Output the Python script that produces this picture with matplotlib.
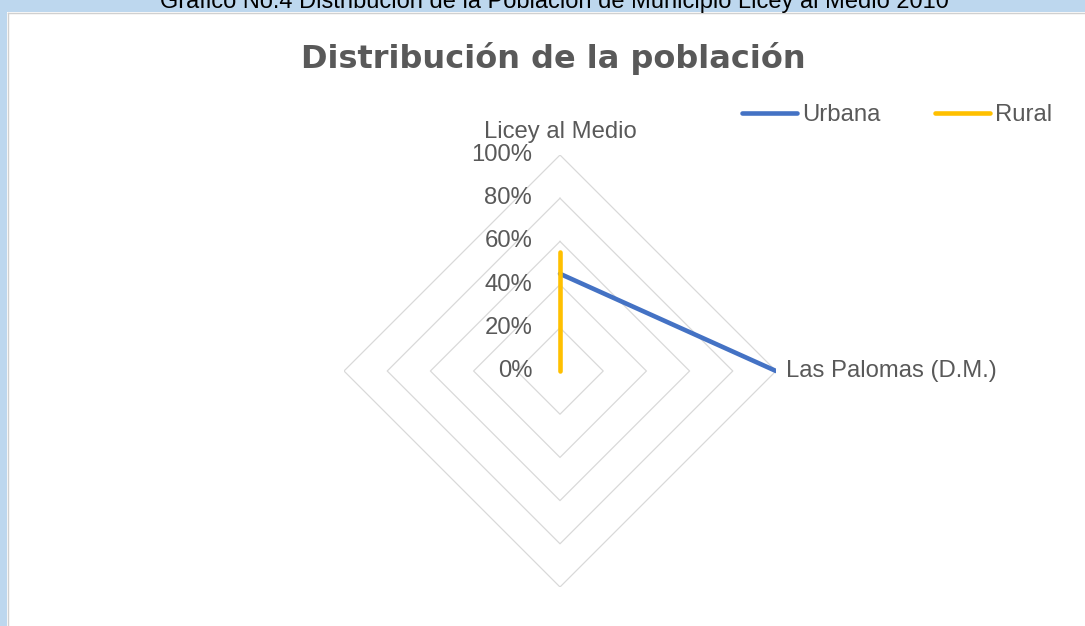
import numpy as np
import matplotlib
matplotlib.use("Agg")
import matplotlib.pyplot as plt
from matplotlib.patches import Rectangle
from matplotlib.lines import Line2D

# data
categories = ["Licey al Medio", "Las Palomas (D.M.)", "", ""]
urbana = [0.45, 1.00, np.nan, np.nan]
rural = [0.55, 0.00, np.nan, np.nan]
ring_values = [0.2, 0.4, 0.6, 0.8, 1.0]
tick_values = [0.0, 0.2, 0.4, 0.6, 0.8, 1.0]
tick_labels = ["0%", "20%", "40%", "60%", "80%", "100%"]

caption = "Gráfico No.4 Distribución de la Población de Municipio Licey al Medio 2010"
title = "Distribución de la población"

W, H = 1085, 626
TXT = "#595959"
BLUE = "#4472C4"
GOLD = "#FFC000"
FS = 17.2

plt.rcParams['font.family'] = ['Liberation Sans', 'DejaVu Sans']

fig = plt.figure(figsize=(W / 100, H / 100), dpi=100)
fig.patch.set_facecolor("white")

# light blue frame (top band and left strip)
fig.add_artist(Rectangle((0, 1 - 12 / H), 1, 12 / H, transform=fig.transFigure,
                         facecolor="#BDD7EE", edgecolor="none", zorder=0))
fig.add_artist(Rectangle((0, 0), 7 / W, 1, transform=fig.transFigure,
                         facecolor="#BDD7EE", edgecolor="none", zorder=0))
fig.add_artist(Line2D([7.5 / W, 1], [1 - 12.5 / H, 1 - 12.5 / H], transform=fig.transFigure,
                      color="#D0D0D0", lw=1))
fig.add_artist(Line2D([7.5 / W, 7.5 / W], [0, 1 - 12.5 / H], transform=fig.transFigure,
                      color="#D0D0D0", lw=1))

# caption is cut by the top edge, as in the source
fig.text(554 / W, 1 - 8 / H, caption, ha="center", va="baseline", fontsize=17, color="black")
fig.text(553 / W, 1 - 68 / H, title, ha="center", va="baseline", fontsize=23,
         fontweight="bold", color=TXT, family="DejaVu Sans")

# radar axes: centre (560, 371), radius 216 px
cx, cy, R = 560, 371, 216
ax = fig.add_axes([(cx - R) / W, (H - cy - R) / H, 2 * R / W, 2 * R / H], projection="polar")
ax.set_theta_zero_location("N")
ax.set_theta_direction(-1)
ax.set_ylim(0, 1)
ax.grid(False)
ax.set_xticks([])
ax.set_yticks([])
ax.spines["polar"].set_visible(False)
ax.patch.set_alpha(0)

theta = np.linspace(0, 2 * np.pi, len(categories), endpoint=False)
ring_theta = np.append(theta, theta[0])
for r in ring_values:
    ax.plot(ring_theta, [r] * len(ring_theta), color="#D9D9D9", lw=0.9, zorder=1)

ax.plot(theta, urbana, color=BLUE, lw=3.3, solid_capstyle="round", zorder=3, label="Urbana")
ax.plot(theta, rural, color=GOLD, lw=3.3, solid_capstyle="round", zorder=3, label="Rural")

for v, lab in zip(tick_values, tick_labels):
    ax.annotate(lab, (0, v), xytext=(-20, 0), textcoords="offset points",
                ha="right", va="center", fontsize=FS, color=TXT, annotation_clip=False)

ax.annotate(categories[0], (theta[0], 1), xytext=(0, 16.5), textcoords="offset points",
            ha="center", va="center", fontsize=FS, color=TXT, annotation_clip=False)
ax.annotate(categories[1], (theta[1], 1), xytext=(7, 0), textcoords="offset points",
            ha="left", va="center", fontsize=FS, color=TXT, annotation_clip=False)

fig.legend(loc="center left", bbox_to_anchor=(742 / W, 1 - 115 / H), ncol=2, frameon=False,
           fontsize=FS, labelcolor=TXT, handlelength=2.3, handletextpad=0.2,
           columnspacing=2.3, borderpad=0, borderaxespad=0)

fig.savefig("out.png", dpi=100)
